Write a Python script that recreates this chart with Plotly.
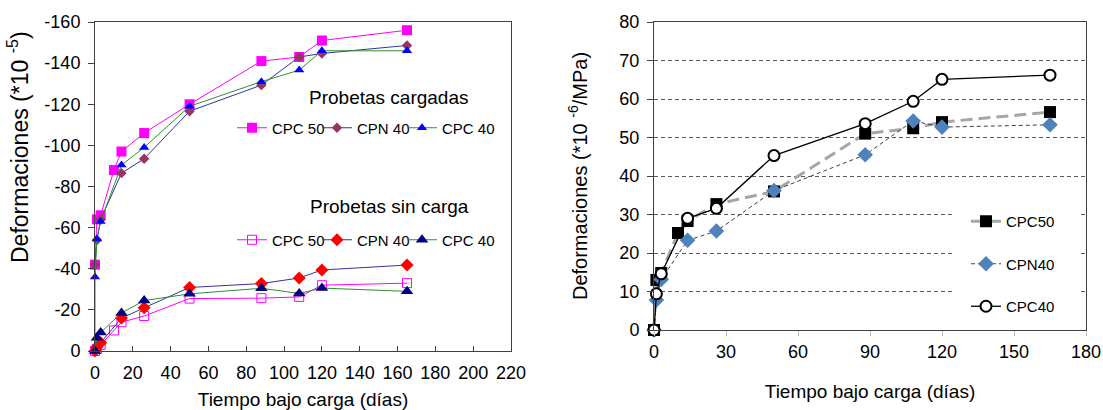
import plotly.graph_objects as go

# ---------------- data ----------------
# Left chart (Deformaciones *10^-5), negative values
t_cpc50 = [0, 1, 3, 10, 14, 26, 50, 88, 108, 120, 165]
t_cpn40 = [0, 1, 3, 14, 26, 50, 88, 108, 120, 165]
t_cpc40_load = [0, 0, 1, 3, 14, 26, 50, 88, 108, 120, 165]
t_cpc40 = [0, 1, 3, 14, 26, 50, 88, 108, 120, 165]

load_cpc50 = [-42, -64, -66, -88, -97, -106, -120, -141, -143, -151, -156]
load_cpn40 = [-42, -54, -64, -86.5, -93.5, -116.6, -129.3, -143, -144.7, -148.6]
load_cpc40 = [0, -36, -54.5, -63, -90.4, -99, -119, -131, -136.6, -146, -146]

free_cpc50 = [0, -1, -3, -10, -14, -17, -25.5, -25.7, -26.3, -32, -33]
free_cpn40 = [0, -2, -4, -16, -21, -30.9, -32.8, -35.5, -39.4, -41.8]
free_cpc40 = [0, -6.5, -9, -18.5, -24.5, -27.8, -30.5, -28, -30.6, -29]

left_yticks = [0, -20, -40, -60, -80, -100, -120, -140, -160]
left_yticklabels = ["0", "-20", "-40", "-60", "-80", "-100", "-120", "-140", "-160"]

# Right chart (Deformaciones *10^-6/MPa)
r_cpc50 = [0, 13, 14.8, 25.2, 28.3, 32.7, 36, 51, 52.4, 54, 56.6]
r_cpn40 = [0, 7.8, 13.1, 23.3, 25.7, 36.2, 45.5, 54.3, 52.7, 53.3]
r_cpc40 = [0, 9.4, 14.6, 29, 31.6, 45.3, 53.6, 59.4, 65.1, 66.2]

FONT = "Liberation Sans, Arial, sans-serif"

fig = go.Figure()

# ---- left: loaded specimens ----
fig.add_trace(go.Scatter(x=t_cpc50, y=load_cpc50, name="CPC 50", mode="lines+markers",
                         line=dict(color="#ff00ff", width=1),
                         marker=dict(symbol="square", size=10, color="#ff00ff"),
                         cliponaxis=False, legend="legend", legendwidth=40,
                         xaxis="x", yaxis="y"))
fig.add_trace(go.Scatter(x=t_cpn40, y=load_cpn40, name="CPN 40", mode="lines+markers",
                         line=dict(color="#333399", width=1),
                         marker=dict(symbol="diamond", size=8, color="#993366"),
                         cliponaxis=False, legend="legend", legendwidth=40,
                         xaxis="x", yaxis="y"))
fig.add_trace(go.Scatter(x=t_cpc40_load, y=load_cpc40, name="CPC 40", mode="lines+markers",
                         line=dict(color="#2f8f2f", width=1),
                         marker=dict(symbol="triangle-up", size=9, color="#0000ff"),
                         cliponaxis=False, legend="legend", legendwidth=70,
                         xaxis="x", yaxis="y"))

# ---- left: unloaded specimens ----
fig.add_trace(go.Scatter(x=t_cpc50, y=free_cpc50, name="CPC 50", mode="lines+markers",
                         line=dict(color="#ff00ff", width=1),
                         marker=dict(symbol="square-open", size=9, color="#ff00ff", line=dict(width=1)),
                         cliponaxis=False, legend="legend2", legendwidth=40,
                         xaxis="x", yaxis="y"))
fig.add_trace(go.Scatter(x=t_cpn40, y=free_cpn40, name="CPN 40", mode="lines+markers",
                         line=dict(color="#333399", width=1),
                         marker=dict(symbol="diamond", size=10, color="#ff0000"),
                         cliponaxis=False, legend="legend2", legendwidth=40,
                         xaxis="x", yaxis="y"))
fig.add_trace(go.Scatter(x=t_cpc40, y=free_cpc40, name="CPC 40", mode="lines+markers",
                         line=dict(color="#2f8f2f", width=1),
                         marker=dict(symbol="triangle-up", size=11, color="#000080"),
                         cliponaxis=False, legend="legend2", legendwidth=70,
                         xaxis="x", yaxis="y"))

# ---- right chart ----
fig.add_trace(go.Scatter(x=t_cpc50, y=r_cpc50, name="CPC50", mode="lines+markers",
                         line=dict(color="#a6a6a6", width=3, dash="12px,6px"),
                         marker=dict(symbol="square", size=12, color="#000000"),
                         cliponaxis=False, legend="legend3", legendgroup="a",
                         xaxis="x2", yaxis="y2"))
fig.add_trace(go.Scatter(x=t_cpn40, y=r_cpn40, name="CPN40", mode="lines+markers",
                         line=dict(color="#404040", width=1, dash="4px,3px"),
                         marker=dict(symbol="diamond", size=12, color="#4f81bd"),
                         cliponaxis=False, legend="legend3", legendgroup="b",
                         xaxis="x2", yaxis="y2"))
fig.add_trace(go.Scatter(x=t_cpc40, y=r_cpc40, name="CPC40", mode="lines+markers",
                         line=dict(color="#000000", width=1.3),
                         marker=dict(symbol="circle", size=11, color="#ffffff",
                                     line=dict(color="#000000", width=2)),
                         cliponaxis=False, legend="legend3", legendgroup="c",
                         xaxis="x2", yaxis="y2"))

W, H = 1103, 410

def px(xp):
    return xp / W

def py(yp):
    return 1 - yp / H

fig.update_layout(
    width=W, height=H,
    margin=dict(l=0, r=0, t=0, b=0, autoexpand=False),
    paper_bgcolor="white", plot_bgcolor="white",
    font=dict(family=FONT, size=17, color="#000000"),
    showlegend=True,
    hovermode=False,
    xaxis=dict(domain=[px(95), px(511)], range=[0, 220], dtick=20, tick0=0,
               showline=True, linecolor="#404040", linewidth=1, mirror=True,
               ticks="inside", ticklen=5, tickcolor="#404040",
               showgrid=False, zeroline=False, automargin=False,
               tickfont=dict(size=18), ticklabelstandoff=5,
               title=dict(text="Tiempo bajo carga (días)", font=dict(size=19), standoff=12),
               anchor="y"),
    yaxis=dict(domain=[py(351), py(22)], range=[0, -160],
               tickvals=left_yticks, ticktext=left_yticklabels,
               showline=True, linecolor="#404040", linewidth=1, mirror=True,
               ticks="outside", ticklen=6, tickcolor="#404040",
               showgrid=False, zeroline=False, automargin=False,
               tickfont=dict(size=18), ticklabelstandoff=4,
               anchor="x"),
    xaxis2=dict(domain=[px(654), px(1086)], range=[0, 180], dtick=30, tick0=0,
                showline=True, linecolor="#404040", linewidth=1, mirror=True,
                ticks="outside", ticklen=5, tickcolor="#bfbfbf",
                showgrid=False, zeroline=False, automargin=False,
                tickfont=dict(size=18),
                title=dict(text="Tiempo bajo carga (días)", font=dict(size=19), standoff=24),
                anchor="y2"),
    yaxis2=dict(domain=[py(330), py(22)], range=[0, 80], dtick=10, tick0=0,
                showline=True, linecolor="#404040", linewidth=1, mirror=True,
                ticks="outside", ticklen=6, tickcolor="#404040",
                showgrid=True, gridcolor="#595959", gridwidth=1, griddash="4px,3px",
                zeroline=False, automargin=False,
                tickfont=dict(size=18), ticklabelstandoff=4,
                title=dict(text="Deformaciones (*10 <sup>-6</sup>/MPa)", font=dict(size=20), standoff=26),
                anchor="x2"),
    legend=dict(x=px(232), y=py(128), xanchor="left", yanchor="middle",
                orientation="h", font=dict(size=15), bgcolor="rgba(0,0,0,0)",
                itemclick=False),
    legend2=dict(x=px(232), y=py(240), xanchor="left", yanchor="middle",
                 orientation="h", font=dict(size=15), bgcolor="rgba(0,0,0,0)",
                 itemclick=False),
    legend3=dict(x=px(966), y=py(205), xanchor="left", yanchor="top",
                 orientation="v", font=dict(size=15), bgcolor="rgba(0,0,0,0)",
                 tracegroupgap=20, itemclick=False),
    shapes=[
        dict(type="rect", xref="x2", yref="y2", x0=125, x1=177.5, y0=0.5, y1=35,
             fillcolor="white", line=dict(width=0), layer="between"),
    ],
    annotations=[
        dict(text="Deformaciones (*10 <sup>-5</sup>)", x=px(18), y=py(147),
             xref="paper", yref="paper", textangle=-90, showarrow=False,
             font=dict(size=23), xanchor="center", yanchor="middle"),
        dict(text="Probetas cargadas", x=px(389), y=py(97), xref="paper", yref="paper",
             showarrow=False, font=dict(size=19), xanchor="center", yanchor="middle",
             bgcolor="white"),
        dict(text="Probetas sin carga", x=px(389), y=py(206), xref="paper", yref="paper",
             showarrow=False, font=dict(size=19), xanchor="center", yanchor="middle",
             bgcolor="white"),
    ],
)

fig.write_html("out.html", config={"displayModeBar": False},
               post_script="document.body.style.margin='0px';")
